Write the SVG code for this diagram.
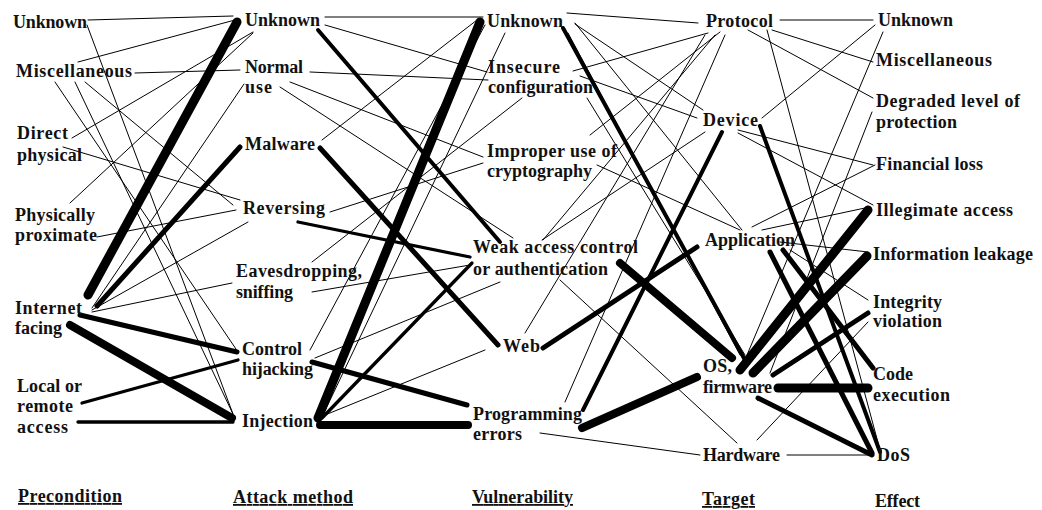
<svg xmlns="http://www.w3.org/2000/svg" width="1042" height="510" viewBox="0 0 1042 510">
<style>
text{font-family:"Liberation Serif","Times New Roman",serif;font-weight:bold;font-size:18px;fill:#111}
.h{text-decoration:underline}
line{stroke:#000;stroke-linecap:round}
.t1{stroke-width:1}
.t3{stroke-width:3.3}
.t4{stroke-width:4}
.t5{stroke-width:5}
.t8{stroke-width:8}
.t9{stroke-width:9}
</style>
<rect width="1042" height="510" fill="#fff"/>
<g id="connectors">
<line class="t1" x1="88" y1="20" x2="233" y2="16"/>
<line class="t1" x1="87" y1="25" x2="233" y2="414"/>
<line class="t1" x1="78" y1="62" x2="235" y2="20"/>
<line class="t1" x1="135" y1="73" x2="240" y2="70"/>
<line class="t1" x1="55" y1="82" x2="238" y2="352"/>
<line class="t1" x1="75" y1="82" x2="233" y2="414"/>
<line class="t1" x1="85" y1="82" x2="233" y2="205"/>
<line class="t1" x1="72" y1="138" x2="253" y2="32"/>
<line class="t1" x1="63" y1="147" x2="240" y2="200"/>
<line class="t1" x1="70" y1="203" x2="253" y2="33"/>
<line class="t1" x1="97" y1="237" x2="236" y2="210"/>
<line class="t9" x1="88" y1="295" x2="237" y2="22"/>
<line class="t5" x1="97" y1="306" x2="240" y2="147"/>
<line class="t1" x1="92" y1="308" x2="244" y2="84"/>
<line class="t1" x1="92" y1="310" x2="248" y2="222"/>
<line class="t1" x1="92" y1="312" x2="232" y2="283"/>
<line class="t5" x1="80" y1="315" x2="237" y2="352"/>
<line class="t8" x1="70" y1="325" x2="232" y2="418"/>
<line class="t3" x1="82" y1="403" x2="238" y2="360"/>
<line class="t3" x1="78" y1="422" x2="233" y2="422"/>

<line class="t1" x1="325" y1="17" x2="483" y2="17"/>
<line class="t1" x1="325" y1="25" x2="487" y2="72"/>
<line class="t4" x1="318" y1="30" x2="500" y2="242"/>
<line class="t1" x1="310" y1="72" x2="488" y2="80"/>
<line class="t1" x1="290" y1="82" x2="483" y2="157"/>
<line class="t1" x1="280" y1="87" x2="513" y2="238"/>
<line class="t1" x1="322" y1="140" x2="477" y2="20"/>
<line class="t5" x1="320" y1="148" x2="498" y2="345"/>
<line class="t1" x1="330" y1="212" x2="483" y2="163"/>
<line class="t3" x1="298" y1="222" x2="470" y2="257"/>
<line class="t1" x1="312" y1="262" x2="522" y2="98"/>
<line class="t1" x1="312" y1="292" x2="470" y2="265"/>
<line class="t1" x1="310" y1="350" x2="485" y2="25"/>
<line class="t1" x1="315" y1="358" x2="500" y2="282"/>
<line class="t5" x1="312" y1="362" x2="467" y2="405"/>
<line class="t9" x1="318" y1="418" x2="480" y2="22"/>
<line class="t3" x1="322" y1="418" x2="472" y2="263"/>
<line class="t8" x1="320" y1="425" x2="468" y2="425"/>
<line class="t1" x1="322" y1="417" x2="505" y2="33"/>
<line class="t1" x1="325" y1="415" x2="485" y2="350"/>

<line class="t1" x1="567" y1="13" x2="698" y2="23"/>
<line class="t4" x1="563" y1="28" x2="745" y2="360"/>
<line class="t1" x1="575" y1="24" x2="703" y2="110"/>
<line class="t1" x1="568" y1="33" x2="740" y2="355"/>
<line class="t1" x1="573" y1="71" x2="708" y2="33"/>
<line class="t1" x1="580" y1="76" x2="697" y2="118"/>
<line class="t1" x1="587" y1="98" x2="745" y2="355"/>
<line class="t1" x1="590" y1="135" x2="720" y2="32"/>
<line class="t1" x1="597" y1="165" x2="740" y2="230"/>
<line class="t1" x1="543" y1="240" x2="715" y2="35"/>
<line class="t1" x1="542" y1="240" x2="705" y2="132"/>
<line class="t8" x1="620" y1="263" x2="732" y2="358"/>
<line class="t1" x1="560" y1="280" x2="737" y2="443"/>
<line class="t5" x1="543" y1="348" x2="697" y2="247"/>
<line class="t1" x1="525" y1="333" x2="705" y2="35"/>
<line class="t4" x1="583" y1="410" x2="722" y2="132"/>
<line class="t8" x1="582" y1="428" x2="697" y2="377"/>
<line class="t1" x1="540" y1="433" x2="700" y2="455"/>
<line class="t1" x1="565" y1="402" x2="725" y2="35"/>
<line class="t1" x1="575" y1="23" x2="742" y2="230"/>

<line class="t1" x1="780" y1="20" x2="873" y2="20"/>
<line class="t1" x1="772" y1="30" x2="873" y2="62"/>
<line class="t1" x1="748" y1="30" x2="873" y2="98"/>
<line class="t1" x1="767" y1="30" x2="880" y2="450"/>
<line class="t1" x1="762" y1="118" x2="875" y2="25"/>
<line class="t1" x1="738" y1="130" x2="873" y2="165"/>
<line class="t1" x1="738" y1="133" x2="873" y2="205"/>
<line class="t4" x1="760" y1="126" x2="880" y2="452"/>
<line class="t1" x1="752" y1="227" x2="875" y2="165"/>
<line class="t1" x1="762" y1="230" x2="865" y2="208"/>
<line class="t1" x1="780" y1="242" x2="868" y2="252"/>
<line class="t1" x1="790" y1="250" x2="868" y2="300"/>
<line class="t5" x1="783" y1="250" x2="873" y2="368"/>
<line class="t5" x1="770" y1="252" x2="872" y2="453"/>
<line class="t9" x1="740" y1="370" x2="868" y2="210"/>
<line class="t9" x1="753" y1="373" x2="867" y2="256"/>
<line class="t5" x1="773" y1="375" x2="868" y2="313"/>
<line class="t9" x1="778" y1="388" x2="868" y2="388"/>
<line class="t5" x1="758" y1="398" x2="872" y2="455"/>
<line class="t1" x1="787" y1="455" x2="872" y2="455"/>
<line class="t1" x1="757" y1="440" x2="868" y2="322"/>
<line class="t1" x1="883" y1="32" x2="747" y2="355"/>
<line class="t1" x1="872" y1="112" x2="770" y2="373"/>
</g>

<g id="p_unknown"><text x="13" y="28" textLength="74">Unknown</text></g>
<g id="p_misc"><text x="16" y="77" textLength="116">Miscellaneous</text></g>
<g id="p_direct"><text x="17" y="139" textLength="51">Direct</text><text x="17" y="161" textLength="65">physical</text></g>
<g id="p_phys"><text x="15" y="221" textLength="80">Physically</text><text x="15" y="241" textLength="82">proximate</text></g>
<g id="p_internet"><text x="15" y="314" textLength="67">Internet</text><text x="15" y="334" textLength="47">facing</text></g>
<g id="p_local"><text x="17" y="392" textLength="65">Local or</text><text x="17" y="412" textLength="56">remote</text><text x="17" y="433" textLength="51">access</text></g>

<g id="a_unknown"><text x="245" y="26" textLength="75">Unknown</text></g>
<g id="a_normal"><text x="245" y="73" textLength="58">Normal</text><text x="245" y="93" textLength="27">use</text></g>
<g id="a_malware"><text x="245" y="150" textLength="70">Malware</text></g>
<g id="a_reversing"><text x="243" y="214" textLength="82">Reversing</text></g>
<g id="a_eaves"><text x="236" y="277" textLength="126">Eavesdropping,</text><text x="236" y="298" textLength="57">sniffing</text></g>
<g id="a_control"><text x="242" y="355" textLength="60">Control</text><text x="242" y="375" textLength="71">hijacking</text></g>
<g id="a_injection"><text x="242" y="427" textLength="71">Injection</text></g>

<g id="v_unknown"><text x="487" y="27" textLength="76">Unknown</text></g>
<g id="v_insecure"><text x="488" y="73" textLength="72">Insecure</text><text x="488" y="93" textLength="105">configuration</text></g>
<g id="v_crypto"><text x="487" y="157" textLength="130">Improper use of</text><text x="487" y="177" textLength="105">cryptography</text></g>
<g id="v_weak"><text x="473" y="253" textLength="165">Weak access control</text><text x="473" y="275" textLength="135">or authentication</text></g>
<g id="v_web"><text x="503" y="352" textLength="37">Web</text></g>
<g id="v_prog"><text x="473" y="420" textLength="109">Programming</text><text x="473" y="440" textLength="49">errors</text></g>

<g id="t_protocol"><text x="706" y="27" textLength="67">Protocol</text></g>
<g id="t_device"><text x="703" y="126" textLength="55">Device</text></g>
<g id="t_application"><text x="705" y="246" textLength="90">Application</text></g>
<g id="t_os"><text x="703" y="372" textLength="29">OS,</text><text x="703" y="393" textLength="69">firmware</text></g>
<g id="t_hardware"><text x="703" y="461" textLength="77">Hardware</text></g>

<g id="e_unknown"><text x="878" y="26" textLength="75">Unknown</text></g>
<g id="e_misc"><text x="876" y="66" textLength="116">Miscellaneous</text></g>
<g id="e_degraded"><text x="876" y="107" textLength="144">Degraded level of</text><text x="876" y="128" textLength="81">protection</text></g>
<g id="e_financial"><text x="876" y="170" textLength="107">Financial loss</text></g>
<g id="e_illegimate"><text x="876" y="216" textLength="137">Illegimate access</text></g>
<g id="e_leak"><text x="873" y="260" textLength="160">Information leakage</text></g>
<g id="e_integrity"><text x="873" y="308" textLength="69">Integrity</text><text x="873" y="327" textLength="69">violation</text></g>
<g id="e_code"><text x="873" y="380" textLength="40">Code</text><text x="873" y="401" textLength="77">execution</text></g>
<g id="e_dos"><text x="877" y="461" textLength="33">DoS</text></g>

<g id="headers">
<text class="h" x="18" y="502" textLength="104">Precondition</text>
<text class="h" x="233" y="503" textLength="120">Attack method</text>
<text class="h" x="472" y="503" textLength="101">Vulnerability</text>
<text class="h" x="702" y="505" textLength="53">Target</text>
<text x="875" y="507" textLength="45">Effect</text>
</g>
</svg>
